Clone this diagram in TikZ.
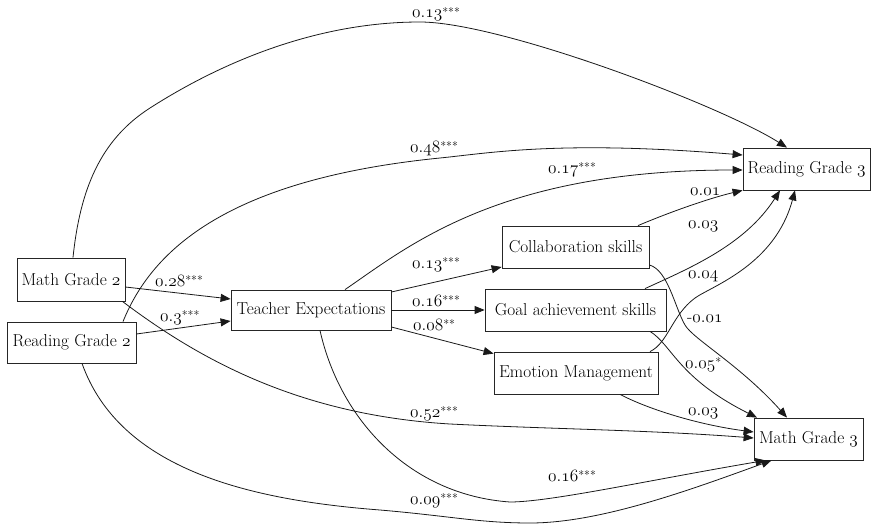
\documentclass[tikz,border=0pt]{standalone}
\usepackage{fontspec}
\usetikzlibrary{arrows.meta}
\newcommand{\osn}[1]{$\mathnormal{#1}$}
\newcommand{\stars}[1]{\raisebox{1.5pt}{\fontsize{12}{12}\selectfont #1}}
\begin{document}
\begin{tikzpicture}[x=1pt,y=-1pt,
  font=\fontsize{17.28}{21}\selectfont,
  box/.style={draw=black!85, line width=0.8pt, inner sep=0pt, minimum height=42pt},
  edge/.style={draw=black!90, line width=0.8pt, -{Triangle[length=10pt,width=8pt]}},
  lbl/.style={inner sep=0pt, anchor=base west}]
\useasboundingbox (0,0) rectangle (871,527);

% nodes
\node[box, minimum width=108pt, minimum height=43pt] (mg2) at (71,279.5) {Math Grade \osn{2}};
\node[box, minimum width=129pt, minimum height=41pt] (rg2) at (71.5,342.5) {Reading Grade \osn{2}};
\node[box, minimum width=160pt, minimum height=40pt] (te) at (311,310) {Teacher Expectations};
\node[box, minimum width=147pt] (cs) at (575.5,247) {Collaboration skills};
\node[box, minimum width=181pt] (gas) at (575.5,310) {Goal achievement skills};
\node[box, minimum width=164pt] (em) at (576,373) {Emotion Management};
\node[box, minimum width=127pt] (rg3) at (806.5,169) {Reading Grade \osn{3}};
\node[box, minimum width=109pt] (mg3) at (808.5,439) {Math Grade \osn{3}};

% edges to Reading Grade 3
\draw[edge] ([xshift=2pt]mg2.north) .. controls (80,190) and (100,140) .. (150,108)
  .. controls (200,76) and (300,22) .. (420,22)
  .. controls (500,22) and (720,105) .. ([xshift=-19.5pt]rg3.north);
\draw[edge] ([xshift=51.5pt]rg2.north) .. controls (150,255) and (220,180) .. (440,158)
  .. controls (490,153) and (560,140) .. ([yshift=14pt]rg3.west);
\draw[edge] ([xshift=34pt]te.north) .. controls (410,245) and (500,170) .. ([yshift=-1pt]rg3.west);
\draw[edge] ([xshift=62.5pt]cs.north) .. controls (670,212) and (710,198) .. (rg3.south west);
\draw[edge] ([xshift=69.5pt]gas.north) .. controls (690,268) and (745,245) .. ([xshift=-26.5pt]rg3.south);
\draw[edge] ([xshift=74pt]em.north) .. controls (668,343) and (672,315) .. (695,298)
  .. controls (712,286) and (775,265) .. ([xshift=-11.5pt]rg3.south);

% edges to Math Grade 3
\draw[edge] ([yshift=-18pt]cs.east) .. controls (668,270) and (675,308) .. (685,325)
  .. controls (693,339) and (740,365) .. ([xshift=-21.5pt]mg3.north);
\draw[edge] ([xshift=74.5pt]gas.south) .. controls (672,345) and (678,378) .. ([xshift=-51.5pt]mg3.north);
\draw[edge] ([xshift=44pt]em.south) .. controls (650,410) and (700,425) .. ([yshift=7pt]mg3.west);
\draw[edge] ([xshift=-3pt]mg2.south east) .. controls (200,360) and (300,415) .. (450,424)
  .. controls (550,429) and (650,430) .. ([yshift=1pt]mg3.west);
\draw[edge] ([xshift=9pt]te.south) .. controls (340,420) and (410,495) .. (510,502)
  .. controls (550,502) and (650,480) .. ([xshift=-43pt]mg3.south);
\draw[edge] ([xshift=10.5pt]rg2.south) .. controls (120,470) and (250,500) .. (380,510)
  .. controls (450,516) and (480,523) .. (530,523)
  .. controls (600,523) and (690,490) .. ([xshift=-37pt]mg3.south);

% short edges
\draw[edge] ([yshift=-7.5pt]mg2.east) -- ([yshift=11pt]te.west);
\draw[edge] ([yshift=8.5pt]rg2.east) -- ([yshift=-11pt]te.west);
\draw[edge] ([yshift=18pt]te.east) -- ([yshift=-20pt]cs.west);
\draw[edge] (te.east) -- (gas.west);
\draw[edge] ([yshift=-17pt]te.east) -- ([yshift=-2pt]em.north west);

% labels
\node[lbl] (l1) at (412,18) {\osn{0.13}\stars{***}};
\node[lbl] (l2) at (410,152) {\osn{0.48}\stars{***}};
\node[lbl] (l3) at (548,173) {\osn{0.17}\stars{***}};
\node[lbl] (l4) at (690,195) {\osn{0.01}};
\node[lbl] (l5) at (688,228) {\osn{0.03}};
\node[lbl] (l6) at (688,278) {\osn{0.04}};
\node[lbl] (l7) at (687,322) {-\osn{0.01}};
\node[lbl] (l8) at (685,368) {\osn{0.05}\stars{*}};
\node[lbl] (l9) at (688,415) {\osn{0.03}};
\node[lbl] (l10) at (410,417) {\osn{0.52}\stars{***}};
\node[lbl] (l11) at (548,481) {\osn{0.16}\stars{***}};
\node[lbl] (l12) at (410,504) {\osn{0.09}\stars{***}};
\node[lbl] (l13) at (155,286) {\osn{0.28}\stars{***}};
\node[lbl] (l14) at (160,321) {\osn{0.3}\stars{***}};
\node[lbl] (l15) at (412,268) {\osn{0.13}\stars{***}};
\node[lbl] (l16) at (412,306) {\osn{0.16}\stars{***}};
\node[lbl] (l17) at (413,330) {\osn{0.08}\stars{**}};
\end{tikzpicture}
\end{document}
